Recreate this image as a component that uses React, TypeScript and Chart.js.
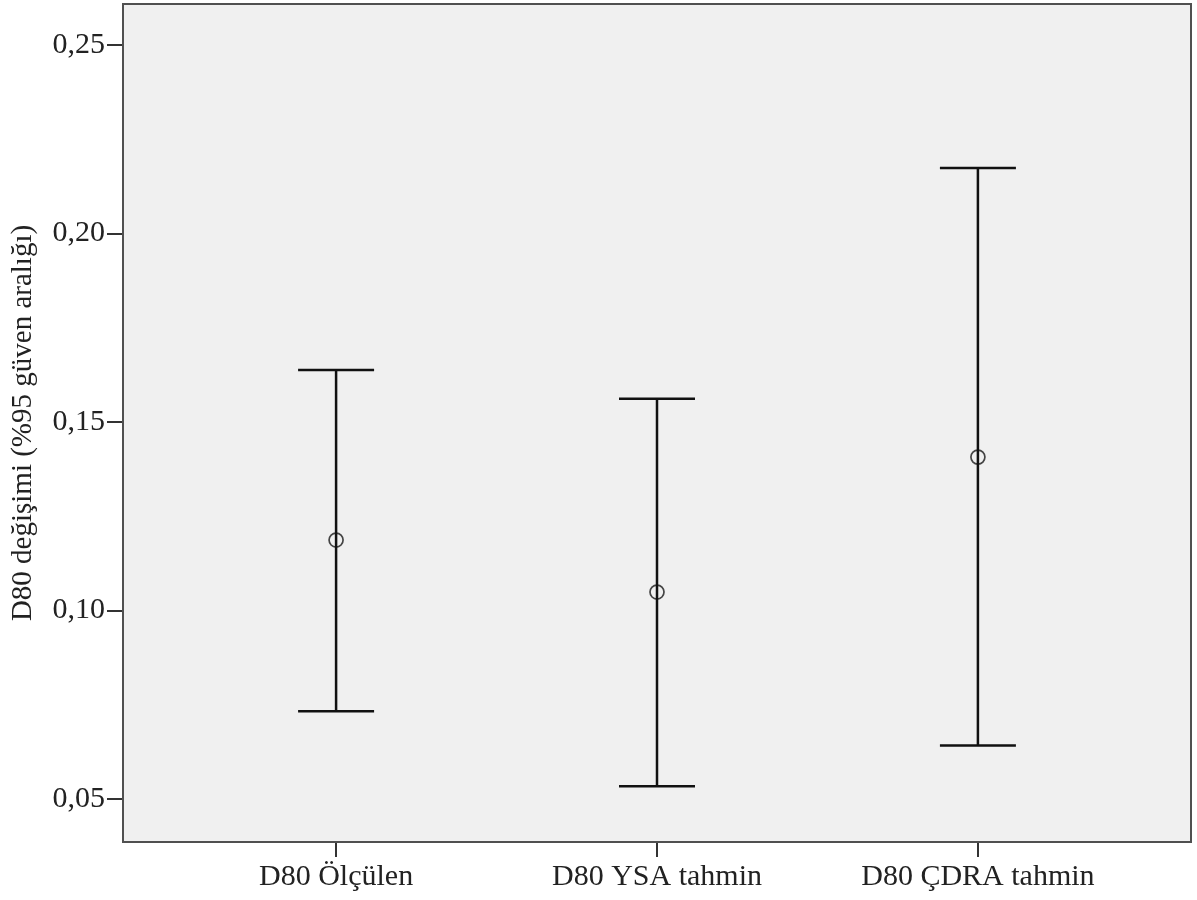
import React, { useEffect, useRef } from "react";
import { Chart, registerables } from "chart.js";

Chart.register(...registerables);

const categories = ["D80 Ölçülen", "D80 YSA tahmin", "D80 ÇDRA tahmin"];
const means = [0.1187, 0.1049, 0.1407];
const lowerCI = [0.0733, 0.0534, 0.0642];
const upperCI = [0.1638, 0.1562, 0.2174];
const yTicks = [0.05, 0.1, 0.15, 0.2, 0.25];
const yTitle = "D80 değişimi (%95 güven aralığı)";

const FONT = "'Liberation Serif', 'Times New Roman', serif";

const plotBgPlugin = {
  id: "plotBg",
  beforeDraw(chart: any) {
    const { ctx, chartArea } = chart;
    ctx.save();
    ctx.fillStyle = "#f0f0f0";
    ctx.fillRect(chartArea.left, chartArea.top, chartArea.right - chartArea.left, chartArea.bottom - chartArea.top);
    ctx.restore();
  },
  afterDraw(chart: any) {
    const { ctx, chartArea } = chart;
    ctx.save();
    ctx.strokeStyle = "#505050";
    ctx.lineWidth = 2;
    ctx.strokeRect(chartArea.left, chartArea.top, chartArea.right - chartArea.left, chartArea.bottom - chartArea.top);
    ctx.restore();
  },
};

const errorBarPlugin = {
  id: "errorBars",
  afterDatasetsDraw(chart: any) {
    const { ctx } = chart;
    const xs = chart.scales.x;
    const ys = chart.scales.y;
    const capHalf = 38;
    ctx.save();
    ctx.strokeStyle = "#111";
    ctx.lineWidth = 2.5;
    categories.forEach((_, i) => {
      const x = xs.getPixelForValue(i);
      const yLo = ys.getPixelForValue(lowerCI[i]);
      const yHi = ys.getPixelForValue(upperCI[i]);
      ctx.beginPath();
      ctx.moveTo(x, yHi);
      ctx.lineTo(x, yLo);
      ctx.moveTo(x - capHalf, yHi);
      ctx.lineTo(x + capHalf, yHi);
      ctx.moveTo(x - capHalf, yLo);
      ctx.lineTo(x + capHalf, yLo);
      ctx.stroke();
    });
    ctx.restore();
  },
};

export default function App() {
  const ref = useRef<HTMLCanvasElement | null>(null);
  useEffect(() => {
    document.body.style.margin = "0";
    if (!ref.current) return;
    const chart = new Chart(ref.current, {
      type: "scatter",
      data: {
        datasets: [
          {
            data: means.map((m, i) => ({ x: i, y: m })),
            pointRadius: 7,
            pointHoverRadius: 7,
            pointBorderWidth: 1.7,
            borderColor: "#444",
            backgroundColor: "rgba(0,0,0,0)",
          },
        ],
      },
      options: {
        responsive: false,
        animation: false,
        layout: { autoPadding: false, padding: { top: 4, right: 6, left: 0, bottom: 0 } },
        plugins: { legend: { display: false }, tooltip: { enabled: false } },
        scales: {
          x: {
            type: "linear",
            min: -0.664,
            max: 2.664,
            afterBuildTicks: (s: any) => {
              s.ticks = categories.map((_, i) => ({ value: i }));
            },
            afterFit: (s: any) => {
              s.height = 58;
              s.paddingLeft = 0;
              s.paddingRight = 0;
            },
            border: { display: false },
            grid: { drawOnChartArea: false, drawTicks: true, tickLength: 15, color: "#333", lineWidth: 2 },
            ticks: {
              padding: 2,
              color: "#222",
              font: { family: FONT, size: 30 },
              maxRotation: 0,
              autoSkip: false,
              callback: (v: any) => categories[v as number] ?? "",
            },
          },
          y: {
            min: 0.0386,
            max: 0.2609,
            afterBuildTicks: (s: any) => {
              s.ticks = yTicks.map((v) => ({ value: v }));
            },
            afterFit: (s: any) => {
              s.width = 123;
              s.paddingTop = 0;
              s.paddingBottom = 0;
            },
            border: { display: false },
            grid: { drawOnChartArea: false, drawTicks: true, tickLength: 16, color: "#333", lineWidth: 2 },
            ticks: {
              padding: 2,
              color: "#222",
              font: { family: FONT, size: 30 },
              callback: (v: any) => Number(v).toFixed(2).replace(".", ","),
            },
            title: {
              display: true,
              text: yTitle,
              color: "#222",
              font: { family: FONT, size: 29 },
              padding: { top: 6, bottom: 0 },
            },
          },
        },
      },
      plugins: [plotBgPlugin, errorBarPlugin],
    } as any);
    return () => chart.destroy();
  }, []);
  return <canvas ref={ref} width={1197} height={900} style={{ display: "block" }} />;
}
